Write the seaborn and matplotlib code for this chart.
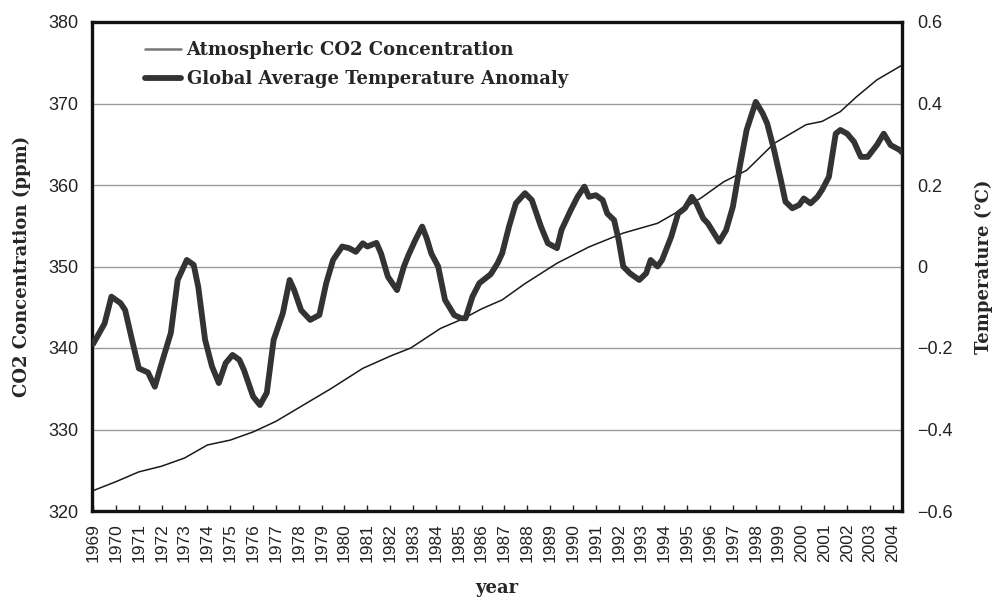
import numpy as np
import pandas as pd
import matplotlib
matplotlib.use("Agg")
import matplotlib.pyplot as plt
import seaborn as sns
from matplotlib.ticker import FuncFormatter

# ---------------- data ----------------
co2_years = [1969.0, 1970.0, 1971.0, 1972.0, 1973.0, 1974.0, 1975.0, 1976.0, 1977.0,
             1978.2, 1979.4, 1980.8, 1982.0, 1982.9, 1984.2, 1985.2, 1986.0, 1986.9,
             1987.9, 1989.3, 1990.7, 1992.2, 1993.7, 1994.7, 1995.6, 1996.6, 1997.6,
             1998.8, 2000.2, 2000.9, 2001.7, 2002.4, 2003.3, 2004.4]
co2_ppm = [322.5, 323.6, 324.8, 325.5, 326.5, 328.1, 328.7, 329.7, 331.0,
           333.0, 335.0, 337.5, 339.0, 340.0, 342.4, 343.6, 344.8, 345.9,
           347.9, 350.4, 352.4, 354.1, 355.3, 356.9, 358.4, 360.4, 361.8,
           365.1, 367.4, 367.8, 369.0, 370.8, 372.9, 374.7]

temp_years = [1969.0, 1969.1, 1969.5, 1969.8, 1970.2, 1970.4, 1970.7, 1971.0, 1971.4, 1971.7,
              1972.0, 1972.4, 1972.7, 1973.1, 1973.4, 1973.6, 1973.9, 1974.2, 1974.5, 1974.8,
              1975.1, 1975.4, 1975.6, 1976.0, 1976.3, 1976.6, 1976.9, 1977.3, 1977.6, 1977.8,
              1978.1, 1978.5, 1978.9, 1979.2, 1979.5, 1979.9, 1980.2, 1980.5, 1980.8, 1981.0,
              1981.4, 1981.6, 1981.9, 1982.3, 1982.6, 1982.8, 1983.1, 1983.4, 1983.6, 1983.8,
              1984.1, 1984.4, 1984.8, 1985.1, 1985.3, 1985.6, 1985.9, 1986.4, 1986.7, 1986.9,
              1987.2, 1987.5, 1987.9, 1988.2, 1988.6, 1988.9, 1989.3, 1989.5, 1989.9, 1990.2,
              1990.5, 1990.7, 1991.0, 1991.3, 1991.5, 1991.8, 1992.0, 1992.2, 1992.5, 1992.9,
              1993.2, 1993.4, 1993.7, 1993.9, 1994.3, 1994.6, 1994.9, 1995.2, 1995.4, 1995.7,
              1995.9, 1996.4, 1996.7, 1997.0, 1997.3, 1997.6, 1998.0, 1998.3, 1998.5, 1998.8,
              1999.1, 1999.3, 1999.6, 1999.9, 2000.1, 2000.4, 2000.7, 2000.9, 2001.2, 2001.5,
              2001.7, 2002.0, 2002.3, 2002.6, 2002.9, 2003.3, 2003.6, 2003.9, 2004.3, 2004.4]
temp_anom = [-0.19, -0.18, -0.14, -0.074, -0.09, -0.107, -0.18, -0.25, -0.26, -0.295,
             -0.237, -0.163, -0.033, 0.016, 0.004, -0.05, -0.18, -0.245, -0.286, -0.237,
             -0.217, -0.229, -0.254, -0.319, -0.34, -0.31, -0.18, -0.115, -0.033, -0.058,
             -0.107, -0.131, -0.119, -0.041, 0.016, 0.049, 0.045, 0.036, 0.057, 0.049,
             0.058, 0.032, -0.025, -0.058, 0.0, 0.028, 0.065, 0.098, 0.069, 0.032,
             0.0, -0.082, -0.119, -0.127, -0.127, -0.074, -0.041, -0.019, 0.008, 0.032,
             0.098, 0.155, 0.18, 0.163, 0.098, 0.057, 0.045, 0.09, 0.138, 0.171,
             0.196, 0.171, 0.175, 0.163, 0.130, 0.114, 0.065, 0.0, -0.017, -0.033,
             -0.017, 0.016, 0.0, 0.016, 0.073, 0.13, 0.143, 0.171, 0.155, 0.118,
             0.106, 0.061, 0.089, 0.147, 0.245, 0.335, 0.404, 0.376, 0.351, 0.286,
             0.212, 0.159, 0.143, 0.151, 0.167, 0.155, 0.171, 0.188, 0.22, 0.326,
             0.335, 0.326, 0.306, 0.269, 0.269, 0.298, 0.326, 0.298, 0.286, 0.28]

year_ticks = list(range(1969, 2005))
co2_ticks = [320, 330, 340, 350, 360, 370, 380]
temp_ticks = [-0.6, -0.4, -0.2, 0.0, 0.2, 0.4, 0.6]

label_co2 = "Atmospheric CO2 Concentration"
label_temp = "Global Average Temperature Anomaly"

# ---------------- plot ----------------
sns.set_style("white")
serif = ["DejaVu Serif", "DejaVu Sans", "Noto Sans CJK JP"]
sans = ["Liberation Sans", "DejaVu Sans"]

fig = plt.figure(figsize=(9.93, 6.01), dpi=100)
ax = fig.add_axes([92 / 993, 1 - 511 / 601, (902 - 92) / 993, (511 - 22) / 601])
ax2 = ax.twinx()

df_co2 = pd.DataFrame({"year": co2_years, "ppm": co2_ppm})
df_t = pd.DataFrame({"year": temp_years, "anom": temp_anom})

sns.lineplot(data=df_co2, x="year", y="ppm", ax=ax, color="#1a1a1a", linewidth=1.1,
             label=label_co2, legend=False, zorder=3)
sns.lineplot(data=df_t, x="year", y="anom", ax=ax2, color="#333333", linewidth=4.2,
             label=label_temp, legend=False, zorder=4,
             solid_joinstyle="round", solid_capstyle="round")

ax.set_xlim(1968.95, 2004.4)
ax.set_ylim(320, 380)
ax2.set_ylim(-0.6, 0.6)

ax.set_yticks(co2_ticks)
ax2.set_yticks(temp_ticks)
ax.set_xticks(year_ticks)
ax.set_xticklabels([str(y) for y in year_ticks], rotation=90, fontfamily=sans, fontsize=12.5)

ax2.yaxis.set_major_formatter(FuncFormatter(lambda v, p: "0" if abs(v) < 1e-9 else f"{v:.1f}".replace("-", "\u2212")))

for lbl in ax.get_yticklabels():
    lbl.set_fontfamily(sans)
    lbl.set_fontsize(13)
for lbl in ax2.get_yticklabels():
    lbl.set_fontfamily(sans)
    lbl.set_fontsize(13)

ax.tick_params(axis="y", length=0, pad=10, colors="#222222")
ax2.tick_params(axis="y", length=0, pad=11, colors="#222222")
ax.tick_params(axis="x", direction="in", length=4, width=1, pad=9, colors="#222222", bottom=True)

# horizontal grid
ax.grid(False)
ax2.grid(False)
for v in co2_ticks[1:-1]:
    ax.axhline(v, color="#9a9a9a", linewidth=1.0, zorder=1)

for sp in ["left", "right", "top", "bottom"]:
    ax.spines[sp].set_visible(True)
    ax.spines[sp].set_color("#111111")
    ax.spines[sp].set_linewidth(2.4)
    ax2.spines[sp].set_visible(False)

ax.set_xlabel("year", fontfamily=serif, fontweight="bold", fontsize=13, labelpad=12)
ax.set_ylabel("CO2 Concentration (ppm)", fontfamily=serif, fontweight="bold", fontsize=13, labelpad=12)
ax2.set_ylabel("Temperature (\u2103)", fontfamily=serif, fontweight="bold", fontsize=13, labelpad=16)

h1, l1 = ax.get_legend_handles_labels()
h2, l2 = ax2.get_legend_handles_labels()
leg = ax.legend(h1 + h2, l1 + l2, loc="upper left", bbox_to_anchor=(136 / 993, 1 - 32 / 601),
                bbox_transform=fig.transFigure, frameon=False, borderpad=0,
                handlelength=2.0, handletextpad=0.3, labelspacing=0.6,
                prop={"family": serif, "weight": "bold", "size": 13})
leg.get_lines()[0].set_color("#777777")
leg.get_lines()[0].set_linewidth(1.8)

fig.savefig("out.png", dpi=100, facecolor="white")
